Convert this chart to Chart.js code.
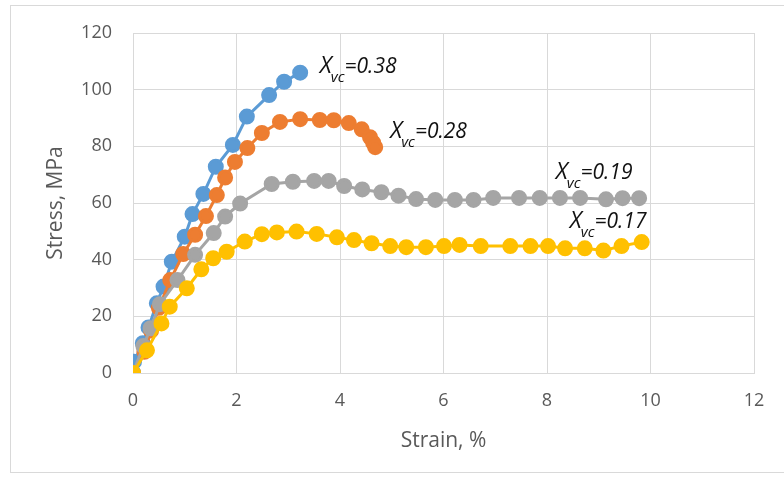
<!DOCTYPE html>
<html>
<head>
<meta charset="utf-8">
<script src="https://cdn.jsdelivr.net/npm/chart.js@4.4.1/dist/chart.umd.min.js"></script>
<style>
  html,body{margin:0;padding:0;background:#fff;}
  #wrap{position:relative;width:784px;height:479px;overflow:hidden;}
  #frame{position:absolute;left:10px;top:5px;width:800px;height:468px;border:1px solid #d9d9d9;box-sizing:border-box;}
  canvas{position:absolute;left:0;top:0;}
</style>
</head>
<body>
<div id="wrap">
  <div id="frame"></div>
  <canvas id="chart" width="784" height="479"></canvas>
</div>
<script>
/* data: strain (%) vs stress (MPa) */
const blueX   = [0, 0.02, 0.19, 0.30, 0.46, 0.59, 0.75, 1.0, 1.15, 1.36, 1.6, 1.93, 2.2, 2.63, 2.92, 3.23];
const blueY   = [0, 4.0, 10.5, 16.1, 24.6, 30.5, 39.3, 48.1, 56.1, 63.2, 72.8, 80.5, 90.5, 98.1, 102.8, 106.0];

const orangeX = [0, 0.22, 0.35, 0.5, 0.72, 0.97, 1.2, 1.41, 1.62, 1.78, 1.97, 2.21, 2.49, 2.84, 3.23, 3.61, 3.88, 4.17, 4.42, 4.58, 4.64, 4.68];
const orangeY = [0, 7.5, 15, 23, 32.8, 42, 48.8, 55.4, 62.8, 69, 74.5, 79.4, 84.7, 88.6, 89.6, 89.3, 89.2, 88.2, 86, 83.2, 81.3, 79.7];

const grayX   = [0, 0.2, 0.34, 0.52, 0.86, 1.2, 1.56, 1.78, 2.07, 2.68, 3.09, 3.5, 3.78, 4.08, 4.43, 4.8, 5.13, 5.47, 5.84, 6.22, 6.58, 6.96, 7.46, 7.86, 8.25, 8.64, 9.14, 9.46, 9.78];
const grayY   = [0, 9.5, 15.8, 24.3, 32.8, 41.7, 49.4, 55.2, 59.8, 66.7, 67.5, 67.8, 67.8, 66, 64.8, 63.8, 62.6, 61.4, 61.1, 61.1, 61.1, 61.8, 61.8, 61.8, 61.8, 61.8, 61.3, 61.7, 61.7];

const yellowX = [0, 0.27, 0.55, 0.71, 1.04, 1.32, 1.55, 1.81, 2.16, 2.49, 2.78, 3.16, 3.55, 3.94, 4.27, 4.61, 4.97, 5.28, 5.66, 6.01, 6.31, 6.72, 7.29, 7.68, 8.02, 8.35, 8.73, 9.09, 9.44, 9.83];
const yellowY = [0, 8, 17.5, 23.4, 29.9, 36.6, 40.5, 42.8, 46.4, 49, 49.6, 49.9, 49.1, 47.9, 46.9, 45.8, 44.8, 44.4, 44.4, 44.8, 45.2, 44.8, 44.8, 44.8, 44.8, 44, 44, 43.2, 44.8, 46.2];

/* curve labels: text after the subscript, anchored in data units */
const labelVals = ['=0.38', '=0.28', '=0.19', '=0.17'];
const labelAtX  = [3.61, 4.97, 8.17, 8.44];
const labelAtY  = [105.9, 83, 68.4, 51.1];

const xTicks = [0, 2, 4, 6, 8, 10, 12];

function pts(xs, ys){ return xs.map((x,i)=>({x:x, y:ys[i]})); }

function series(label, xs, ys, color, order){
  return {
    label: label, data: pts(xs, ys), showLine: true, order: order,
    borderColor: color, backgroundColor: color,
    pointBackgroundColor: color, pointBorderColor: color,
    borderWidth: 3, pointRadius: 6.5, pointHoverRadius: 6.5, tension: 0
  };
}

/* draws the X_vc labels next to each curve */
const curveLabels = {
  id: 'curveLabels',
  afterDatasetsDraw(chart){
    const ctx = chart.ctx, xs = chart.scales.x, ys = chart.scales.y;
    ctx.save();
    ctx.fillStyle = '#111';
    ctx.textBaseline = 'alphabetic';
    ctx.textAlign = 'left';
    labelVals.forEach((t,i)=>{
      let px = xs.getPixelForValue(labelAtX[i]);
      const py = ys.getPixelForValue(labelAtY[i]);
      ctx.font = 'italic 23px "Open Sans"';
      ctx.fillText('X', px, py);
      px += ctx.measureText('X').width - 1;
      ctx.font = 'italic 15px "Open Sans"';
      ctx.fillText('vc', px, py + 9);
      px += ctx.measureText('vc').width;
      ctx.font = 'italic 21px "Open Sans"';
      ctx.fillText(t, px, py);
    });
    ctx.restore();
  }
};

const gridColor = '#d9d9d9';
const tickFont = {family:'Open Sans', size:18};

new Chart(document.getElementById('chart').getContext('2d'), {
  type: 'scatter',
  data: {
    datasets: [
      series('Xvc=0.38', blueX, blueY, '#5b9bd5', 3),
      series('Xvc=0.28', orangeX, orangeY, '#ed7d31', 2),
      series('Xvc=0.19', grayX, grayY, '#a5a5a5', 1),
      series('Xvc=0.17', yellowX, yellowY, '#ffc000', 0)
    ]
  },
  options: {
    responsive: false, animation: false,
    layout: {padding: {left: 0, right: 30, top: 33, bottom: 0}},
    plugins: {legend: {display: false}, tooltip: {enabled: false}},
    scales: {
      x: {
        type: 'linear', min: 0, max: 12,
        afterBuildTicks: s => { s.ticks = xTicks.map(v=>({value:v})); },
        afterFit: s => { s.height = 106; },
        grid: {color: gridColor, lineWidth: 1, drawTicks: false},
        border: {color: gridColor},
        ticks: {color: '#595959', font: tickFont, padding: 17},
        title: {display: true, text: 'Strain, %', color: '#595959',
                font: {family:'Open Sans', size:21}, padding: {top:0, bottom:25}}
      },
      y: {
        type: 'linear', min: 0, max: 120,
        ticks: {stepSize: 20, color: '#595959', font: tickFont, padding: 21},
        afterFit: s => { s.width = 133; },
        grid: {color: gridColor, lineWidth: 1, drawTicks: false},
        border: {color: gridColor},
        title: {display: true, text: 'Stress, MPa', color: '#595959',
                font: {family:'Open Sans', size:21}, padding: {top:43, bottom:0}}
      }
    }
  },
  plugins: [curveLabels]
});
</script>
</body>
</html>
